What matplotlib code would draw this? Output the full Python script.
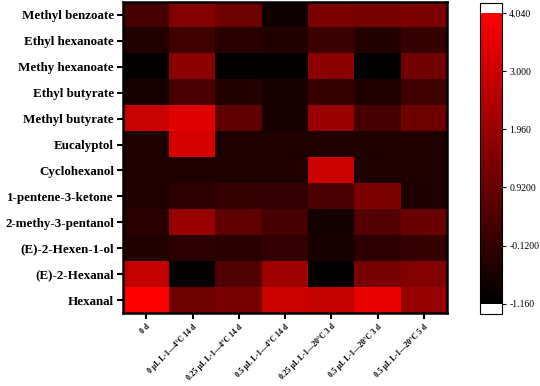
import numpy as np
import matplotlib
matplotlib.use("Agg")
import matplotlib.pyplot as plt
from matplotlib.colors import LinearSegmentedColormap, Normalize

plt.rcParams['font.family'] = ['Liberation Serif', 'DejaVu Serif']

# 화합물 (행) 및 처리 조건 (열)
compounds = ["Methyl benzoate", "Ethyl hexanoate", "Methy hexanoate", "Ethyl butyrate",
             "Methyl butyrate", "Eucalyptol", "Cyclohexanol", "1-pentene-3-ketone",
             "2-methy-3-pentanol", "(E)-2-Hexen-1-ol", "(E)-2-Hexanal", "Hexanal"]
conditions = ["0 d", "0 μL L-1—4°C 14 d", "0.25 μL L-1—4°C 14 d", "0.5 μL L-1—4°C 14 d",
              "0.25 μL L-1—20°C 3 d", "0.5 μL L-1—20°C 3 d", "0.5 μL L-1—20°C 5 d"]

# 그림에서 읽은 값
methyl_benzoate = [0.27, 1.49, 1.08, -0.85, 1.39, 1.29, 1.39]
ethyl_hexanoate = [-0.45, 0.17, -0.34, -0.45, 0.06, -0.45, -0.04]
methy_hexanoate = [-1.06, 1.69, -1.06, -1.06, 1.69, -1.10, 1.19]
ethyl_butyrate = [-0.65, 0.37, -0.45, -0.65, -0.04, -0.55, 0.17]
methyl_butyrate = [2.92, 3.43, 0.78, -0.65, 2.00, 0.27, 1.08]
eucalyptol = [-0.55, 3.22, -0.55, -0.55, -0.55, -0.55, -0.55]
cyclohexanol = [-0.55, -0.55, -0.55, -0.55, 3.02, -0.55, -0.55]
pentene_ketone = [-0.55, -0.24, -0.04, -0.14, 0.37, 1.39, -0.55]
methy_pentanol = [-0.34, 1.90, 0.78, 0.27, -0.75, 0.57, 0.98]
hexen_ol = [-0.45, -0.24, -0.34, -0.14, -0.65, -0.24, -0.04]
hexanal_e2 = [2.82, -1.10, 0.47, 2.10, -1.06, 1.29, 1.49]
hexanal = [4.04, 1.08, 1.29, 3.02, 2.82, 3.63, 1.90]

values = np.array([methyl_benzoate, ethyl_hexanoate, methy_hexanoate, ethyl_butyrate,
                   methyl_butyrate, eucalyptol, cyclohexanol, pentene_ketone,
                   methy_pentanol, hexen_ol, hexanal_e2, hexanal])

cbar_ticks = [4.04, 3.0, 1.96, 0.92, -0.12, -1.16]
cbar_labels = ["4.040", "3.000", "1.960", "0.9200", "-0.1200", "-1.160"]

cmap = LinearSegmentedColormap.from_list("blackred", ["#000000", "#ff0000"])
cmap.set_under("white")
cmap.set_over("white")
norm = Normalize(vmin=-1.16, vmax=4.04)

fig = plt.figure(figsize=(5.4, 3.86), dpi=100)
ax = fig.add_axes([0.228, 0.189, 0.600, 0.806])
im = ax.imshow(values, cmap=cmap, norm=norm, aspect='auto', interpolation='nearest')

ax.set_yticks(range(len(compounds)))
ax.set_yticklabels(compounds, fontsize=9.4, fontweight='bold')
ax.set_xticks(range(len(conditions)))
ax.set_xticklabels(conditions, fontsize=5.6, fontweight='bold', rotation=45,
                   ha='right', rotation_mode='anchor')
ax.tick_params(axis='both', direction='out', length=4, width=1.5)
ax.tick_params(axis='y', pad=2.5)
ax.tick_params(axis='x', pad=3)
for s in ax.spines.values():
    s.set_linewidth(1.8)

cax = fig.add_axes([0.889, 0.187, 0.041, 0.805])
cb = fig.colorbar(im, cax=cax, extend='both', extendrect=True, extendfrac=0.035)
cb.set_ticks(cbar_ticks)
cb.set_ticklabels(cbar_labels)
cb.ax.tick_params(labelsize=7, length=3, width=0.8, pad=2)
cb.outline.set_linewidth(0.8)

fig.savefig("out.png", dpi=100)
